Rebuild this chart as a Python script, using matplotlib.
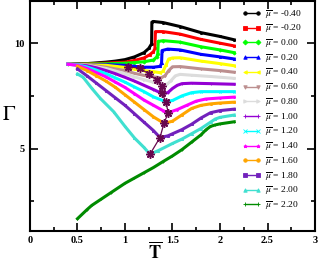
import matplotlib
matplotlib.use("Agg")
import matplotlib.pyplot as plt
from matplotlib.ticker import MultipleLocator

plt.rcParams['font.family'] = ['Liberation Serif', 'DejaVu Serif']
plt.rcParams['mathtext.fontset'] = 'stix'

# data
mu_values = ['-0.40', '-0.20', '0.00', '0.20', '0.40', '0.60', '0.80',
             '1.00', '1.20', '1.40', '1.60', '1.80', '2.00', '2.20']

t_m040 = [0.4, 0.6, 0.8, 0.9, 1.0, 1.1, 1.2, 1.25, 1.28, 1.283, 1.3, 1.4, 1.58, 1.8, 2.0, 2.15]
g_m040 = [9.0, 9.03, 9.1, 9.15, 9.22, 9.35, 9.55, 9.75, 9.97, 11.0, 11.03, 10.98, 10.79, 10.5, 10.32, 10.16]

t_m020 = [0.4, 0.8, 1.0, 1.1, 1.2, 1.26, 1.3, 1.315, 1.32, 1.4, 1.58, 1.8, 2.0, 2.15]
g_m020 = [9.0, 9.05, 9.1, 9.18, 9.3, 9.45, 9.6, 9.75, 10.55, 10.55, 10.43, 10.18, 10.0, 9.87]

t_000 = [0.4, 0.8, 1.0, 1.1, 1.2, 1.3, 1.335, 1.345, 1.35, 1.4, 1.58, 1.8, 2.0, 2.15]
g_000 = [9.0, 9.02, 9.05, 9.08, 9.12, 9.2, 9.35, 9.5, 10.08, 10.12, 10.05, 9.83, 9.68, 9.55]

t_020 = [0.4, 0.8, 1.0, 1.1, 1.2, 1.3, 1.37, 1.385, 1.39, 1.45, 1.58, 1.8, 2.0, 2.15]
g_020 = [9.0, 8.98, 8.95, 8.9, 8.86, 8.86, 8.9, 9.05, 9.65, 9.72, 9.68, 9.47, 9.35, 9.25]

t_040 = [0.4, 0.8, 1.0, 1.1, 1.2, 1.3, 1.37, 1.4, 1.43, 1.46, 1.5, 1.58, 1.8, 2.0, 2.15]
g_040 = [9.0, 8.95, 8.85, 8.76, 8.7, 8.65, 8.6, 8.66, 8.95, 9.25, 9.3, 9.31, 9.15, 9.03, 8.93]

t_060 = [0.4, 0.6, 0.8, 1.0, 1.1, 1.2, 1.3, 1.38, 1.42, 1.46, 1.5, 1.58, 1.8, 2.0, 2.15]
g_060 = [9.0, 8.97, 8.86, 8.7, 8.57, 8.47, 8.4, 8.36, 8.45, 8.7, 8.88, 8.89, 8.78, 8.7, 8.62]

t_080 = [0.4, 0.6, 0.8, 1.0, 1.1, 1.2, 1.3, 1.4, 1.44, 1.48, 1.53, 1.58, 1.7, 1.9, 2.15]
g_080 = [9.0, 8.95, 8.8, 8.55, 8.4, 8.27, 8.15, 8.03, 8.05, 8.2, 8.45, 8.52, 8.48, 8.42, 8.33]

t_100 = [0.4, 0.6, 0.7, 0.8, 0.9, 1.0, 1.1, 1.2, 1.3, 1.386, 1.45, 1.5, 1.55, 1.6, 1.7, 1.9, 2.15]
g_100 = [9.0, 8.93, 8.83, 8.7, 8.55, 8.38, 8.2, 8.0, 7.8, 7.62, 7.65, 7.85, 8.0, 8.08, 8.1, 8.08, 8.05]

t_120 = [0.4, 0.5, 0.6, 0.7, 0.8, 0.9, 1.0, 1.1, 1.2, 1.3, 1.43, 1.5, 1.6, 1.7, 1.8, 2.0, 2.15]
g_120 = [9.0, 8.97, 8.87, 8.72, 8.55, 8.35, 8.15, 7.92, 7.7, 7.45, 7.22, 7.28, 7.5, 7.65, 7.7, 7.7, 7.7]

t_140 = [0.4, 0.5, 0.6, 0.7, 0.8, 0.9, 1.0, 1.1, 1.2, 1.3, 1.4, 1.456, 1.55, 1.65, 1.75, 1.85, 2.0, 2.15]
g_140 = [9.0, 8.95, 8.8, 8.6, 8.4, 8.15, 7.9, 7.6, 7.3, 7.05, 6.8, 6.7, 6.85, 7.05, 7.25, 7.35, 7.4, 7.44]

t_160 = [0.5, 0.6, 0.7, 0.8, 0.9, 1.0, 1.1, 1.2, 1.3, 1.414, 1.5, 1.6, 1.7, 1.8, 1.9, 2.0, 2.15]
g_160 = [8.9, 8.7, 8.45, 8.2, 7.9, 7.55, 7.2, 6.85, 6.5, 6.19, 6.3, 6.6, 6.9, 7.05, 7.12, 7.16, 7.2]

t_180 = [0.5, 0.6, 0.7, 0.8, 0.9, 1.0, 1.1, 1.2, 1.3, 1.368, 1.45, 1.5, 1.6, 1.7, 1.8, 1.9, 2.0, 2.15]
g_180 = [8.78, 8.45, 8.1, 7.75, 7.4, 7.05, 6.65, 6.25, 5.85, 5.52, 5.6, 5.7, 5.9, 6.15, 6.45, 6.7, 6.8, 6.87]

t_200 = [0.5, 0.56, 0.65, 0.74, 0.88, 1.0, 1.1, 1.2, 1.263, 1.35, 1.5, 1.6, 1.7, 1.8, 1.9, 1.95, 2.0, 2.15]
g_200 = [8.54, 8.38, 7.86, 7.38, 6.75, 6.05, 5.5, 5.05, 4.73, 4.9, 5.24, 5.45, 5.7, 5.95, 6.25, 6.4, 6.48, 6.59]

t_220 = [0.5, 0.6, 0.65, 0.75, 0.85, 1.0, 1.1, 1.2, 1.3, 1.4, 1.5, 1.6, 1.7, 1.8, 1.85, 1.9, 1.95, 2.0, 2.15]
g_220 = [1.67, 2.1, 2.3, 2.6, 2.9, 3.35, 3.6, 3.85, 4.1, 4.38, 4.65, 4.95, 5.3, 5.65, 5.88, 6.05, 6.12, 6.17, 6.27]

# minima marked by stars
star_t = [1.035, 1.158, 1.25, 1.333, 1.385, 1.39, 1.43, 1.455, 1.41, 1.368, 1.263]
star_g = [8.89, 8.80, 8.55, 8.25, 7.97, 7.62, 7.22, 6.70, 6.19, 5.52, 4.73]

series_t = [t_m040, t_m020, t_000, t_020, t_040, t_060, t_080,
            t_100, t_120, t_140, t_160, t_180, t_200, t_220]
series_g = [g_m040, g_m020, g_000, g_020, g_040, g_060, g_080,
            g_100, g_120, g_140, g_160, g_180, g_200, g_220]

colors = ['#000000', '#ff0000', '#00ff00', '#0000ff', '#ffff00', '#bc8f8f', '#dcdcdc',
          '#9400d3', '#00ffff', '#ff00ff', '#ffa500', '#7221bc', '#40e0d0', '#008b00']
markers = ['o', 's', 'D', '^', '<', 'v', '>', '+', 'x', '*', 'o', 's', '^', '+']

fig = plt.figure(figsize=(3.18, 2.62), dpi=100)
ax = fig.add_axes([0.0943, 0.1195, 0.8963, 0.8765])

for t, g, c, m, mu in zip(series_t, series_g, colors, markers, mu_values):
    ax.plot(t, g, color=c, lw=2.2, marker=m, ms=1.6, mew=0.6,
            label=r'$\overline{\mu}$ = ' + mu)

ax.plot(star_t, star_g, color='#67074e', lw=0.9, marker=(8, 2, 0),
        ms=6, mew=1.1)

ax.set_xlim(0, 3)
ax.set_ylim(1.1, 12)
ax.xaxis.set_minor_locator(MultipleLocator(0.25))
ax.yaxis.set_minor_locator(MultipleLocator(2.5))
ax.set_xticks([0, 0.5, 1, 1.5, 2, 2.5, 3])
ax.set_xticklabels(['0', '0.5', '1', '1.5', '2', '2.5', '3'])
ax.set_yticks([5, 10])
ax.set_yticklabels(['5', '10'])

ax.tick_params(which='both', direction='in', top=True, right=True, width=1.2)
ax.tick_params(which='major', length=6, labelsize=7.5, pad=4)
ax.tick_params(which='minor', length=3)
for lab in ax.get_xticklabels() + ax.get_yticklabels():
    lab.set_fontweight('bold')
for s in ax.spines.values():
    s.set_linewidth(1.5)

ax.set_xlabel(r'$\mathbf{\overline{T}}$', fontsize=13, va='center')
ax.xaxis.set_label_coords(0.44, -0.093)
ax.set_ylabel(r'$\Gamma$', fontsize=15, rotation=0, va='center')
ax.yaxis.set_label_coords(-0.075, 0.5)

leg = ax.legend(loc='upper left', bbox_to_anchor=(0.72, 1.0), frameon=False,
                fontsize=6.8, numpoints=2, handlelength=2.0, handletextpad=0.5,
                labelspacing=0.2, borderaxespad=0.3)
for h in leg.legend_handles:
    h.set_linewidth(1.0)
    h.set_markersize(2.5)

fig.savefig('out.png', dpi=100)
